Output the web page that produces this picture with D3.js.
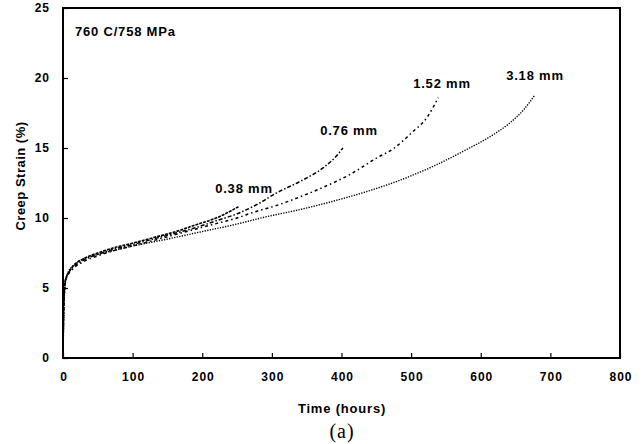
<!DOCTYPE html>
<html><head><meta charset="utf-8">
<script src="https://cdn.jsdelivr.net/npm/d3@7"></script>
<style>body{margin:0;background:#fff}svg{display:block}text{font-family:"Liberation Sans",Arial,sans-serif}</style>
</head><body><svg id="c" width="644" height="444"></svg>
<script>
const xTicks=[0,100,200,300,400,500,600,700,800];
const yTicks=[0,5,10,15,20,25];
const series=["0.38 mm","0.76 mm","1.52 mm","3.18 mm"];
const t038=[0,0.5,1,2,3,5,8,15,30,50,75,100,130,160,190,220,252];
const s038=[0,2,3.5,4.8,5.4,5.8,6.1,6.6,7.1,7.5,7.9,8.2,8.6,9.0,9.5,10.0,10.8];
const t076=[0,0.5,1,2,3,5,8,15,30,50,75,100,130,160,190,220,250,280,307,340,374,394,402];
const s076=[0,2,3.5,4.8,5.4,5.8,6.1,6.5,7.0,7.4,7.8,8.1,8.5,8.9,9.3,9.8,10.3,11.0,11.8,12.6,13.6,14.5,15.0];
const t152=[0,0.5,1,2,3,5,8,15,30,50,75,100,130,160,190,220,250,273,307,340,374,412,451,473,501,523,539];
const s152=[0,2,3.5,4.7,5.3,5.7,6.0,6.4,6.9,7.3,7.7,8.0,8.4,8.8,9.2,9.6,10.0,10.4,10.9,11.5,12.2,13.1,14.3,14.9,16.1,17.2,18.6];
const t318=[0,0.5,1,2,3,5,8,15,30,50,75,100,130,160,197,244,293,340,388,437,484,532,580,613,642,661,678];
const s318=[0,1.8,3.2,4.5,5.2,5.8,6.2,6.6,7.1,7.4,7.7,8.0,8.3,8.6,9.0,9.5,10.1,10.6,11.2,11.9,12.7,13.7,14.9,15.8,16.8,17.7,18.8];
const labelPos=[[244,188],[349,130],[442,83],[535,75]];

const svg=d3.select("#c");
const L=63,R=620,T=8,B=358;
const x=d3.scaleLinear().domain([0,800]).range([L,R]);
const y=d3.scaleLinear().domain([0,25]).range([B,T]);

const data=[[t038,s038],[t076,s076],[t152,s152],[t318,s318]];
const dash=["3,1","4,2,1.5,2","3,3,1.5,3","1.3,1.3"];
const widths=[1.6,1.5,1.5,1.4];
const line=d3.line().x(d=>x(d[0])).y(d=>y(d[1])).curve(d3.curveMonotoneX);
data.forEach((d,i)=>{
  const pts=d[0].map((t,j)=>[t,d[1][j]]);
  svg.append("path").attr("d",line(pts)).attr("fill","none").attr("stroke","#000")
    .attr("stroke-width",widths[i]).attr("stroke-dasharray",dash[i]);
});

const gx=svg.append("g").attr("transform",`translate(0,${B})`)
  .call(d3.axisBottom(x).tickValues(xTicks).tickSize(-5).tickPadding(14).tickFormat(d3.format("d")));
const gy=svg.append("g").attr("transform",`translate(${L},0)`)
  .call(d3.axisLeft(y).tickValues(yTicks).tickSize(-5).tickPadding(13).tickFormat(d3.format("d")));
[gx,gy].forEach(g=>{g.select(".domain").remove();
  g.selectAll("text").attr("font-size",12).attr("font-weight","bold").attr("letter-spacing",1).attr("fill","#000");
  g.selectAll("line").attr("stroke","#000").attr("stroke-width",1.2);});
gx.selectAll("text").attr("dx","0.5");
svg.append("rect").attr("x",L).attr("y",T).attr("width",R-L).attr("height",B-T)
  .attr("fill","none").attr("stroke","#000").attr("stroke-width",2);

const bold=(sel)=>sel.attr("font-size",13).attr("font-weight","bold").attr("letter-spacing",0.8).attr("fill","#000");
series.forEach((s,i)=>bold(svg.append("text").attr("x",labelPos[i][0]).attr("y",labelPos[i][1]).attr("dy","0.35em")
  .attr("text-anchor","middle")).text(s));
bold(svg.append("text").attr("x",75).attr("y",31).attr("dy","0.35em")).text("760 C/758 MPa");
bold(svg.append("text").attr("x",342).attr("y",408).attr("dy","0.35em").attr("text-anchor","middle")).text("Time (hours)");
bold(svg.append("text").attr("transform","translate(20,176) rotate(-90)").attr("dy","0.35em").attr("text-anchor","middle"))
  .attr("letter-spacing",0.5).text("Creep Strain (%)");
svg.append("text").attr("x",342).attr("y",431).attr("dy","0.35em").attr("text-anchor","middle")
  .attr("font-size",20).attr("letter-spacing",1).style("font-family","'Liberation Serif','Times New Roman',serif").text("(a)");
</script></body></html>
